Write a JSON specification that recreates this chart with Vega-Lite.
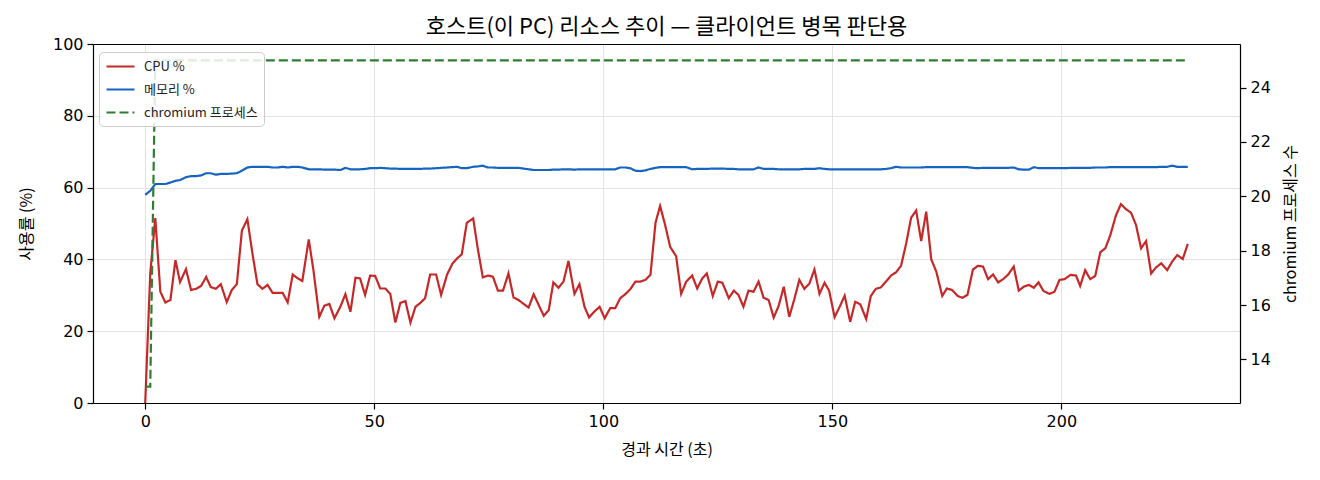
{
  "$schema": "https://vega.github.io/schema/vega-lite/v6.json",
  "width": 1147,
  "height": 359,
  "autosize": {"type": "none"},
  "padding": {"left": 93, "top": 44, "right": 80, "bottom": 77},
  "background": "white",
  "title": {
    "text": "호스트(이 PC) 리소스 추이 — 클라이언트 병목 판단용",
    "font": "Noto Sans CJK KR",
    "fontSize": 22,
    "fontWeight": "normal",
    "color": "#000",
    "anchor": "middle",
    "offset": -3
  },
  "data": {
    "values": [
      {"t": 0, "cpu": 0, "mem": 58.0, "proc": 13},
      {"t": 1.1, "cpu": 36.2, "mem": 59.1, "proc": 13},
      {"t": 2.2, "cpu": 51.5, "mem": 61.0, "proc": 25},
      {"t": 3.3, "cpu": 31.0, "mem": 61.0, "proc": 25},
      {"t": 4.4, "cpu": 28.0, "mem": 61.0, "proc": 25},
      {"t": 5.5, "cpu": 28.7, "mem": 61.4, "proc": 25},
      {"t": 6.6, "cpu": 39.8, "mem": 61.9, "proc": 25},
      {"t": 7.6, "cpu": 33.7, "mem": 62.1, "proc": 25},
      {"t": 8.9, "cpu": 37.3, "mem": 62.9, "proc": 25},
      {"t": 10.0, "cpu": 31.5, "mem": 63.2, "proc": 25},
      {"t": 11.1, "cpu": 31.8, "mem": 63.2, "proc": 25},
      {"t": 12.2, "cpu": 32.6, "mem": 63.4, "proc": 25},
      {"t": 13.3, "cpu": 35.1, "mem": 64.0, "proc": 25},
      {"t": 14.3, "cpu": 32.3, "mem": 64.0, "proc": 25},
      {"t": 15.4, "cpu": 31.8, "mem": 63.6, "proc": 25},
      {"t": 16.5, "cpu": 33.1, "mem": 63.8, "proc": 25},
      {"t": 17.8, "cpu": 28.1, "mem": 63.8, "proc": 25},
      {"t": 18.9, "cpu": 31.5, "mem": 63.9, "proc": 25},
      {"t": 20.0, "cpu": 33.1, "mem": 64.0, "proc": 25},
      {"t": 21.1, "cpu": 48.0, "mem": 64.7, "proc": 25},
      {"t": 22.3, "cpu": 51.2, "mem": 65.6, "proc": 25},
      {"t": 23.4, "cpu": 41.7, "mem": 65.8, "proc": 25},
      {"t": 24.5, "cpu": 33.1, "mem": 65.8, "proc": 25},
      {"t": 25.6, "cpu": 31.8, "mem": 65.8, "proc": 25},
      {"t": 26.7, "cpu": 32.9, "mem": 65.8, "proc": 25},
      {"t": 27.8, "cpu": 30.7, "mem": 65.6, "proc": 25},
      {"t": 28.9, "cpu": 30.7, "mem": 65.6, "proc": 25},
      {"t": 30.0, "cpu": 30.7, "mem": 65.8, "proc": 25},
      {"t": 31.1, "cpu": 28.0, "mem": 65.6, "proc": 25},
      {"t": 32.2, "cpu": 35.8, "mem": 65.8, "proc": 25},
      {"t": 33.3, "cpu": 34.7, "mem": 65.8, "proc": 25},
      {"t": 34.3, "cpu": 34.0, "mem": 65.6, "proc": 25},
      {"t": 35.7, "cpu": 45.6, "mem": 65.1, "proc": 25},
      {"t": 36.7, "cpu": 37.2, "mem": 65.1, "proc": 25},
      {"t": 38.0, "cpu": 24.0, "mem": 65.1, "proc": 25},
      {"t": 39.1, "cpu": 27.1, "mem": 65.0, "proc": 25},
      {"t": 40.2, "cpu": 27.6, "mem": 65.0, "proc": 25},
      {"t": 41.3, "cpu": 23.6, "mem": 65.0, "proc": 25},
      {"t": 42.6, "cpu": 26.8, "mem": 64.9, "proc": 25},
      {"t": 43.7, "cpu": 30.3, "mem": 65.5, "proc": 25},
      {"t": 44.8, "cpu": 25.4, "mem": 65.1, "proc": 25},
      {"t": 45.9, "cpu": 34.9, "mem": 65.1, "proc": 25},
      {"t": 46.9, "cpu": 34.7, "mem": 65.1, "proc": 25},
      {"t": 48.0, "cpu": 30.1, "mem": 65.2, "proc": 25},
      {"t": 49.1, "cpu": 35.5, "mem": 65.4, "proc": 25},
      {"t": 50.2, "cpu": 35.4, "mem": 65.4, "proc": 25},
      {"t": 51.3, "cpu": 31.9, "mem": 65.5, "proc": 25},
      {"t": 52.4, "cpu": 31.9, "mem": 65.4, "proc": 25},
      {"t": 53.5, "cpu": 30.4, "mem": 65.3, "proc": 25},
      {"t": 54.6, "cpu": 22.4, "mem": 65.3, "proc": 25},
      {"t": 55.7, "cpu": 27.9, "mem": 65.2, "proc": 25},
      {"t": 56.8, "cpu": 28.4, "mem": 65.2, "proc": 25},
      {"t": 57.9, "cpu": 22.4, "mem": 65.2, "proc": 25},
      {"t": 59.0, "cpu": 26.8, "mem": 65.2, "proc": 25},
      {"t": 60.0, "cpu": 27.8, "mem": 65.2, "proc": 25},
      {"t": 61.1, "cpu": 29.2, "mem": 65.3, "proc": 25},
      {"t": 62.2, "cpu": 35.8, "mem": 65.3, "proc": 25},
      {"t": 63.5, "cpu": 35.8, "mem": 65.4, "proc": 25},
      {"t": 64.6, "cpu": 30.1, "mem": 65.5, "proc": 25},
      {"t": 65.9, "cpu": 35.8, "mem": 65.6, "proc": 25},
      {"t": 67.1, "cpu": 38.9, "mem": 65.7, "proc": 25},
      {"t": 68.1, "cpu": 40.3, "mem": 65.8, "proc": 25},
      {"t": 69.1, "cpu": 41.4, "mem": 65.4, "proc": 25},
      {"t": 70.2, "cpu": 50.2, "mem": 65.4, "proc": 25},
      {"t": 71.6, "cpu": 51.4, "mem": 65.8, "proc": 25},
      {"t": 72.6, "cpu": 43.0, "mem": 65.9, "proc": 25},
      {"t": 73.7, "cpu": 35.0, "mem": 66.1, "proc": 25},
      {"t": 74.8, "cpu": 35.5, "mem": 65.6, "proc": 25},
      {"t": 75.9, "cpu": 35.2, "mem": 65.6, "proc": 25},
      {"t": 77.0, "cpu": 31.3, "mem": 65.5, "proc": 25},
      {"t": 78.1, "cpu": 31.3, "mem": 65.5, "proc": 25},
      {"t": 79.3, "cpu": 36.1, "mem": 65.5, "proc": 25},
      {"t": 80.4, "cpu": 29.4, "mem": 65.5, "proc": 25},
      {"t": 81.5, "cpu": 28.7, "mem": 65.5, "proc": 25},
      {"t": 82.6, "cpu": 27.6, "mem": 65.3, "proc": 25},
      {"t": 83.7, "cpu": 26.6, "mem": 65.1, "proc": 25},
      {"t": 84.8, "cpu": 30.3, "mem": 64.9, "proc": 25},
      {"t": 85.9, "cpu": 27.3, "mem": 64.9, "proc": 25},
      {"t": 87.0, "cpu": 24.3, "mem": 64.9, "proc": 25},
      {"t": 88.1, "cpu": 25.9, "mem": 64.9, "proc": 25},
      {"t": 89.1, "cpu": 33.6, "mem": 65.0, "proc": 25},
      {"t": 90.2, "cpu": 32.1, "mem": 65.0, "proc": 25},
      {"t": 91.3, "cpu": 33.8, "mem": 65.1, "proc": 25},
      {"t": 92.4, "cpu": 39.6, "mem": 65.1, "proc": 25},
      {"t": 93.7, "cpu": 30.4, "mem": 65.0, "proc": 25},
      {"t": 94.8, "cpu": 33.1, "mem": 65.1, "proc": 25},
      {"t": 95.9, "cpu": 26.8, "mem": 65.1, "proc": 25},
      {"t": 96.9, "cpu": 23.8, "mem": 65.1, "proc": 25},
      {"t": 98.0, "cpu": 25.4, "mem": 65.1, "proc": 25},
      {"t": 99.2, "cpu": 26.8, "mem": 65.1, "proc": 25},
      {"t": 100.3, "cpu": 23.6, "mem": 65.1, "proc": 25},
      {"t": 101.5, "cpu": 26.4, "mem": 65.1, "proc": 25},
      {"t": 102.6, "cpu": 26.4, "mem": 65.1, "proc": 25},
      {"t": 103.7, "cpu": 29.2, "mem": 65.6, "proc": 25},
      {"t": 104.8, "cpu": 30.3, "mem": 65.6, "proc": 25},
      {"t": 105.9, "cpu": 31.7, "mem": 65.4, "proc": 25},
      {"t": 107.0, "cpu": 33.8, "mem": 64.7, "proc": 25},
      {"t": 108.1, "cpu": 33.8, "mem": 64.6, "proc": 25},
      {"t": 109.2, "cpu": 34.3, "mem": 64.8, "proc": 25},
      {"t": 110.3, "cpu": 35.7, "mem": 65.2, "proc": 25},
      {"t": 111.4, "cpu": 50.2, "mem": 65.5, "proc": 25},
      {"t": 112.4, "cpu": 54.9, "mem": 65.7, "proc": 25},
      {"t": 113.5, "cpu": 49.6, "mem": 65.7, "proc": 25},
      {"t": 114.6, "cpu": 43.5, "mem": 65.7, "proc": 25},
      {"t": 115.9, "cpu": 40.9, "mem": 65.7, "proc": 25},
      {"t": 117.0, "cpu": 30.4, "mem": 65.7, "proc": 25},
      {"t": 118.1, "cpu": 33.8, "mem": 65.7, "proc": 25},
      {"t": 119.4, "cpu": 35.5, "mem": 65.1, "proc": 25},
      {"t": 120.5, "cpu": 31.9, "mem": 65.2, "proc": 25},
      {"t": 121.6, "cpu": 34.7, "mem": 65.2, "proc": 25},
      {"t": 122.6, "cpu": 36.1, "mem": 65.2, "proc": 25},
      {"t": 123.9, "cpu": 29.8, "mem": 65.3, "proc": 25},
      {"t": 125.0, "cpu": 33.8, "mem": 65.3, "proc": 25},
      {"t": 126.0, "cpu": 33.5, "mem": 65.3, "proc": 25},
      {"t": 127.4, "cpu": 29.2, "mem": 65.2, "proc": 25},
      {"t": 128.5, "cpu": 31.3, "mem": 65.2, "proc": 25},
      {"t": 129.5, "cpu": 30.1, "mem": 65.1, "proc": 25},
      {"t": 130.6, "cpu": 26.8, "mem": 65.1, "proc": 25},
      {"t": 131.7, "cpu": 31.3, "mem": 65.1, "proc": 25},
      {"t": 132.8, "cpu": 31.0, "mem": 65.1, "proc": 25},
      {"t": 133.9, "cpu": 33.8, "mem": 65.6, "proc": 25},
      {"t": 135.0, "cpu": 29.3, "mem": 65.2, "proc": 25},
      {"t": 136.1, "cpu": 28.7, "mem": 65.2, "proc": 25},
      {"t": 137.2, "cpu": 23.8, "mem": 65.2, "proc": 25},
      {"t": 138.3, "cpu": 27.1, "mem": 65.1, "proc": 25},
      {"t": 139.4, "cpu": 32.4, "mem": 65.1, "proc": 25},
      {"t": 140.6, "cpu": 24.0, "mem": 65.1, "proc": 25},
      {"t": 141.7, "cpu": 28.9, "mem": 65.1, "proc": 25},
      {"t": 142.8, "cpu": 34.3, "mem": 65.1, "proc": 25},
      {"t": 143.9, "cpu": 31.8, "mem": 65.2, "proc": 25},
      {"t": 145.0, "cpu": 33.3, "mem": 65.2, "proc": 25},
      {"t": 146.1, "cpu": 37.2, "mem": 65.2, "proc": 25},
      {"t": 147.2, "cpu": 30.4, "mem": 65.4, "proc": 25},
      {"t": 148.3, "cpu": 33.5, "mem": 65.2, "proc": 25},
      {"t": 149.3, "cpu": 31.3, "mem": 65.1, "proc": 25},
      {"t": 150.5, "cpu": 23.9, "mem": 65.1, "proc": 25},
      {"t": 151.6, "cpu": 26.8, "mem": 65.1, "proc": 25},
      {"t": 152.7, "cpu": 29.9, "mem": 65.1, "proc": 25},
      {"t": 153.9, "cpu": 22.6, "mem": 65.1, "proc": 25},
      {"t": 155.0, "cpu": 28.2, "mem": 65.1, "proc": 25},
      {"t": 156.1, "cpu": 27.5, "mem": 65.1, "proc": 25},
      {"t": 157.4, "cpu": 23.4, "mem": 65.1, "proc": 25},
      {"t": 158.4, "cpu": 29.8, "mem": 65.1, "proc": 25},
      {"t": 159.5, "cpu": 31.8, "mem": 65.1, "proc": 25},
      {"t": 160.6, "cpu": 32.2, "mem": 65.1, "proc": 25},
      {"t": 161.7, "cpu": 33.8, "mem": 65.2, "proc": 25},
      {"t": 162.8, "cpu": 35.5, "mem": 65.4, "proc": 25},
      {"t": 163.9, "cpu": 36.4, "mem": 65.8, "proc": 25},
      {"t": 165.0, "cpu": 38.2, "mem": 65.6, "proc": 25},
      {"t": 166.1, "cpu": 44.3, "mem": 65.6, "proc": 25},
      {"t": 167.2, "cpu": 51.6, "mem": 65.6, "proc": 25},
      {"t": 168.3, "cpu": 53.6, "mem": 65.6, "proc": 25},
      {"t": 169.4, "cpu": 45.1, "mem": 65.6, "proc": 25},
      {"t": 170.5, "cpu": 53.3, "mem": 65.7, "proc": 25},
      {"t": 171.6, "cpu": 40.0, "mem": 65.7, "proc": 25},
      {"t": 172.7, "cpu": 36.6, "mem": 65.7, "proc": 25},
      {"t": 174.0, "cpu": 29.8, "mem": 65.7, "proc": 25},
      {"t": 175.0, "cpu": 31.9, "mem": 65.7, "proc": 25},
      {"t": 176.1, "cpu": 31.5, "mem": 65.7, "proc": 25},
      {"t": 177.4, "cpu": 29.8, "mem": 65.7, "proc": 25},
      {"t": 178.4, "cpu": 29.3, "mem": 65.7, "proc": 25},
      {"t": 179.5, "cpu": 30.1, "mem": 65.7, "proc": 25},
      {"t": 180.7, "cpu": 37.2, "mem": 65.5, "proc": 25},
      {"t": 181.8, "cpu": 38.2, "mem": 65.4, "proc": 25},
      {"t": 182.9, "cpu": 38.0, "mem": 65.5, "proc": 25},
      {"t": 184.0, "cpu": 34.5, "mem": 65.5, "proc": 25},
      {"t": 185.1, "cpu": 35.8, "mem": 65.5, "proc": 25},
      {"t": 186.2, "cpu": 33.6, "mem": 65.5, "proc": 25},
      {"t": 187.3, "cpu": 34.5, "mem": 65.5, "proc": 25},
      {"t": 188.4, "cpu": 35.8, "mem": 65.5, "proc": 25},
      {"t": 189.6, "cpu": 38.0, "mem": 65.6, "proc": 25},
      {"t": 190.7, "cpu": 31.3, "mem": 65.1, "proc": 25},
      {"t": 191.8, "cpu": 32.4, "mem": 65.0, "proc": 25},
      {"t": 192.9, "cpu": 32.9, "mem": 65.0, "proc": 25},
      {"t": 194.0, "cpu": 32.1, "mem": 65.7, "proc": 25},
      {"t": 195.0, "cpu": 33.6, "mem": 65.4, "proc": 25},
      {"t": 196.1, "cpu": 31.2, "mem": 65.4, "proc": 25},
      {"t": 197.4, "cpu": 30.4, "mem": 65.4, "proc": 25},
      {"t": 198.5, "cpu": 31.0, "mem": 65.4, "proc": 25},
      {"t": 199.6, "cpu": 34.3, "mem": 65.4, "proc": 25},
      {"t": 200.7, "cpu": 34.5, "mem": 65.4, "proc": 25},
      {"t": 202.0, "cpu": 35.7, "mem": 65.5, "proc": 25},
      {"t": 203.2, "cpu": 35.5, "mem": 65.5, "proc": 25},
      {"t": 204.1, "cpu": 32.6, "mem": 65.5, "proc": 25},
      {"t": 205.2, "cpu": 37.0, "mem": 65.5, "proc": 25},
      {"t": 206.3, "cpu": 34.5, "mem": 65.5, "proc": 25},
      {"t": 207.4, "cpu": 35.4, "mem": 65.6, "proc": 25},
      {"t": 208.5, "cpu": 42.0, "mem": 65.6, "proc": 25},
      {"t": 209.6, "cpu": 43.1, "mem": 65.6, "proc": 25},
      {"t": 210.7, "cpu": 46.8, "mem": 65.7, "proc": 25},
      {"t": 211.9, "cpu": 52.2, "mem": 65.7, "proc": 25},
      {"t": 213.0, "cpu": 55.4, "mem": 65.7, "proc": 25},
      {"t": 214.1, "cpu": 54.0, "mem": 65.7, "proc": 25},
      {"t": 215.2, "cpu": 53.0, "mem": 65.7, "proc": 25},
      {"t": 216.3, "cpu": 49.6, "mem": 65.7, "proc": 25},
      {"t": 217.4, "cpu": 43.1, "mem": 65.7, "proc": 25},
      {"t": 218.5, "cpu": 45.1, "mem": 65.7, "proc": 25},
      {"t": 219.6, "cpu": 36.1, "mem": 65.7, "proc": 25},
      {"t": 220.7, "cpu": 37.8, "mem": 65.7, "proc": 25},
      {"t": 221.8, "cpu": 38.9, "mem": 65.8, "proc": 25},
      {"t": 223.1, "cpu": 37.0, "mem": 65.8, "proc": 25},
      {"t": 224.2, "cpu": 39.4, "mem": 66.1, "proc": 25},
      {"t": 225.3, "cpu": 41.2, "mem": 65.8, "proc": 25},
      {"t": 226.5, "cpu": 40.1, "mem": 65.8, "proc": 25},
      {"t": 227.6, "cpu": 44.3, "mem": 65.8, "proc": 25}
    ]
  },
  "layer": [
    {
      "transform": [{"fold": ["cpu", "mem"], "as": ["series", "value"]}],
      "mark": {"type": "line", "strokeWidth": 2.2, "clip": true},
      "encoding": {
        "x": {
          "field": "t",
          "type": "quantitative",
          "scale": {"domain": [-11.4, 239], "nice": false, "zero": false},
          "axis": {"values": [0, 50, 100, 150, 200], "title": "경과 시간 (초)", "grid": true, "titlePadding": 12}
        },
        "y": {
          "field": "value",
          "type": "quantitative",
          "scale": {"domain": [0, 100], "nice": false},
          "axis": {"values": [0, 20, 40, 60, 80, 100], "title": "사용률 (%)", "grid": true, "titlePadding": 18}
        },
        "color": {
          "field": "series",
          "type": "nominal",
          "scale": {"domain": ["cpu", "mem", "proc"], "range": ["#c62828", "#1565c0", "#2e7d32"]},
          "legend": {"labelExpr": "datum.value == 'cpu' ? 'CPU %' : datum.value == 'mem' ? '메모리 %' : 'chromium 프로세스'"}
        },
        "strokeDash": {
          "field": "series",
          "type": "nominal",
          "scale": {"domain": ["cpu", "mem", "proc"], "range": [[1, 0], [1, 0], [9, 4]]},
          "legend": {"labelExpr": "datum.value == 'cpu' ? 'CPU %' : datum.value == 'mem' ? '메모리 %' : 'chromium 프로세스'"}
        }
      }
    },
    {
      "transform": [{"fold": ["proc"], "as": ["series", "value"]}],
      "mark": {"type": "line", "strokeWidth": 2.2, "clip": true},
      "encoding": {
        "x": {
          "field": "t",
          "type": "quantitative",
          "axis": {"orient": "top", "labels": false, "ticks": false, "grid": false, "title": null, "domain": true}
        },
        "y": {
          "field": "value",
          "type": "quantitative",
          "scale": {"domain": [12.4, 25.6], "nice": false, "zero": false},
          "axis": {"orient": "right", "values": [14, 16, 18, 20, 22, 24], "title": "chromium 프로세스 수", "grid": false, "titleAngle": 270, "titleBaseline": "top", "titlePadding": 12}
        },
        "color": {"field": "series", "type": "nominal"},
        "strokeDash": {"field": "series", "type": "nominal"}
      }
    }
  ],
  "resolve": {"scale": {"y": "independent"}, "axis": {"x": "independent", "y": "independent"}},
  "config": {
    "view": {"stroke": null},
    "axis": {
      "domain": true,
      "domainColor": "#000",
      "domainWidth": 1.2,
      "labelFont": "DejaVu Sans",
      "labelFontSize": 16,
      "labelColor": "#000",
      "labelPadding": 4,
      "tickColor": "#000",
      "tickSize": 6,
      "tickWidth": 1.2,
      "gridColor": "#e3e3e3",
      "gridWidth": 1,
      "titleFont": "Noto Sans CJK KR",
      "titleFontSize": 16,
      "titleFontWeight": "normal",
      "titleColor": "#000"
    },
    "legend": {
      "orient": "none",
      "legendX": 6,
      "legendY": 8,
      "title": null,
      "fillColor": "rgba(255,255,255,0.85)",
      "strokeColor": "#cccccc",
      "cornerRadius": 4,
      "padding": 6,
      "rowPadding": 7,
      "labelFont": "Noto Sans CJK KR",
      "labelFontSize": 13,
      "labelColor": "#222",
      "labelOffset": 22,
      "symbolType": "M-1,0H3",
      "symbolSize": 196,
      "symbolStrokeWidth": 2.2
    }
  }
}
